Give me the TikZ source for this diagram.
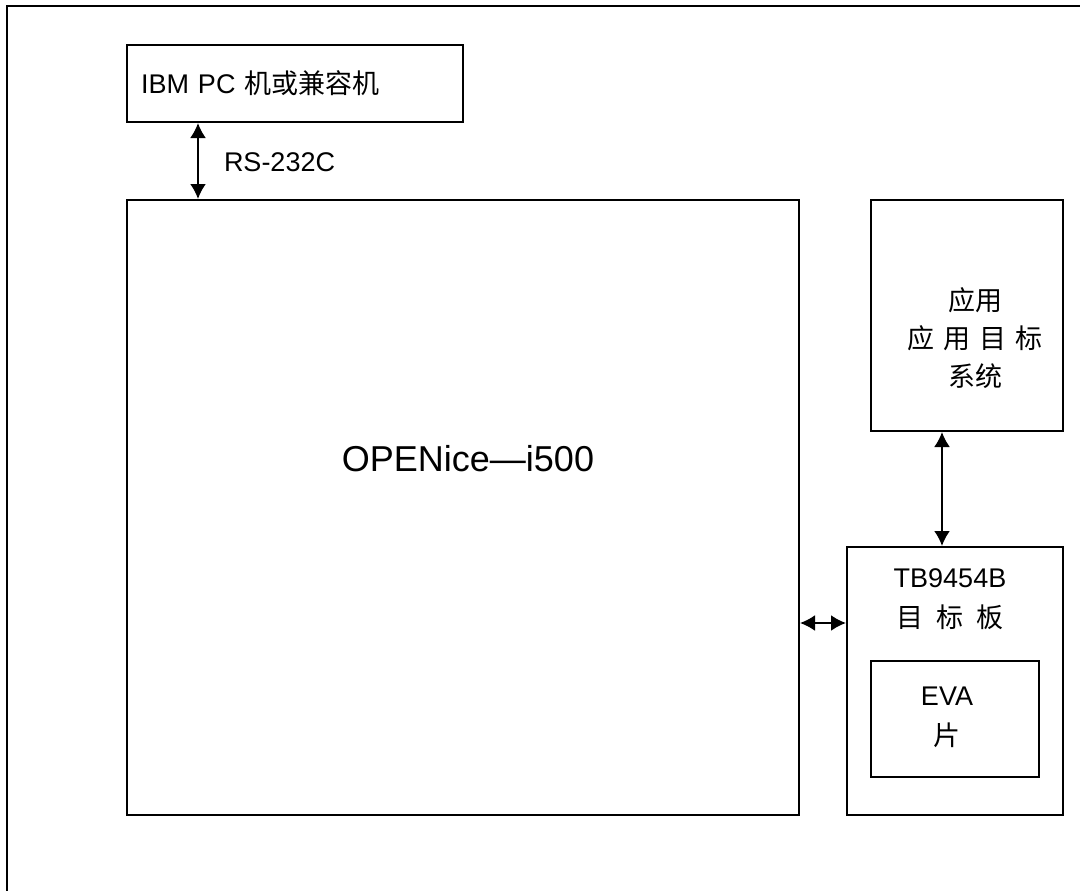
\documentclass[tikz,border=0pt]{standalone}
\usepackage{fontspec}
\setmainfont{Liberation Sans}
\newfontfamily\cjk{Noto Sans CJK SC}
\usetikzlibrary{arrows.meta, positioning}

\tikzset{
    box/.style={draw, rectangle, inner sep=0pt},
    lbl/.style={font=\fontsize{27}{40}\selectfont, inner sep=0pt},
    mlbl/.style={lbl, align=center},
}

\begin{document}
\begin{tikzpicture}[x=1pt, y=-1pt, line width=2pt, >={Latex[length=15pt,width=16pt]}]
    \useasboundingbox (0,0) rectangle (1080,891);
    % Outer frame
    \draw (7,891) -- (7,6) -- (1080,6);
    % Boxes
    \node[box, lbl, minimum height=77pt, text width=308pt, inner xsep=14pt, align=left] (ibm) at (295,83.5) {IBM PC {\cjk 机或兼容机}};
    \node[box, minimum width=672pt, minimum height=615pt] (main) at (463,507.5) {};
    \node[box, minimum width=192pt, minimum height=231pt] (app) at (967,315.5) {};
    \node[box, minimum width=216pt, minimum height=268pt] (tb) at (955,681) {};
    \node[box, minimum width=168pt, minimum height=116pt] (eva) at (955,719) {};
    % Labels
    \node[lbl, anchor=west] (rs) at (223,162) {RS-232C};
    \node[font=\fontsize{36}{44}\selectfont, inner sep=0pt] (mainlbl) at (468,459) {OPENice—i500};
    \node[mlbl, font=\cjk\fontsize{27}{38}\selectfont] (applbl) at (975,338)
        {应用\\应\hspace{9pt}用\hspace{9pt}目\hspace{9pt}标\\系统};
    \node[mlbl] (tblbl) at (950,599) {TB9454B\\{\cjk 目\hspace{13pt}标\hspace{13pt}板}};
    \node[mlbl] (evalbl) at (947,717) {EVA\\{\cjk 片}};
    % Connections
    \draw[<->] ([xshift=72pt]ibm.south west) -- ([xshift=72pt]main.north west);
    \draw[<->] ([xshift=72pt]app.south west) -- ([xshift=96pt]tb.north west);
    \coordinate (tbin) at ([yshift=58pt]tb.west);
    \draw[<->] (main.east |- tbin) -- (tbin);
\end{tikzpicture}
\end{document}
